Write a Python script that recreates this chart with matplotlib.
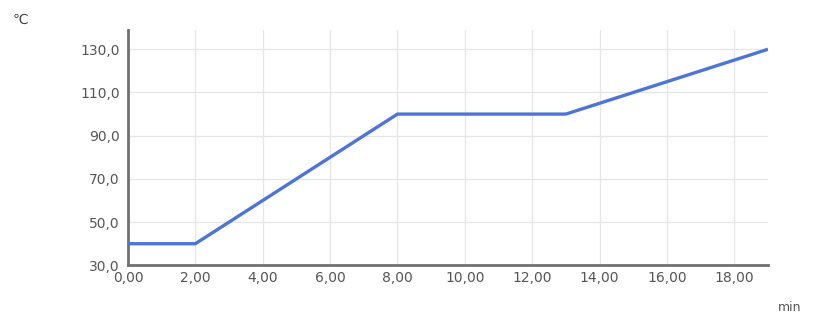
import matplotlib
matplotlib.use('Agg')
import matplotlib.pyplot as plt

# temperature program
time_min = [0, 2, 8, 13, 19]
temp_c = [40, 40, 100, 100, 130]
xticks = [0, 2, 4, 6, 8, 10, 12, 14, 16, 18]
yticks = [30, 50, 70, 90, 110, 130]

fig = plt.figure(figsize=(8.13, 3.14), dpi=100)
ax = fig.add_axes([0.1574, 0.155, 0.7872, 0.75])

ax.plot(time_min, temp_c, color='#4d74d6', lw=2.4, solid_capstyle='butt', zorder=3)

ax.set_xlim(0, 19)
ax.set_ylim(30, 139)
ax.set_xticks(xticks)
ax.set_yticks(yticks)
ax.set_xticklabels(['{:.2f}'.format(v).replace('.', ',') for v in xticks])
ax.set_yticklabels(['{:.1f}'.format(v).replace('.', ',') for v in yticks])
ax.grid(True, color='#e6e6e6', lw=0.9)
ax.set_axisbelow(True)

for s in ['top', 'right']:
    ax.spines[s].set_visible(False)
for s in ['left', 'bottom']:
    ax.spines[s].set_color('#707070')
    ax.spines[s].set_linewidth(2)
ax.tick_params(length=0, labelsize=10, labelcolor='#555555')
ax.tick_params(axis='x', pad=4)
ax.tick_params(axis='y', pad=6)

fig.text(0.015, 0.925, '℃', fontsize=10, color='#444444')
fig.text(0.957, 0.01, 'min', fontsize=9, color='#555555')

fig.savefig('out.png', dpi=100)
